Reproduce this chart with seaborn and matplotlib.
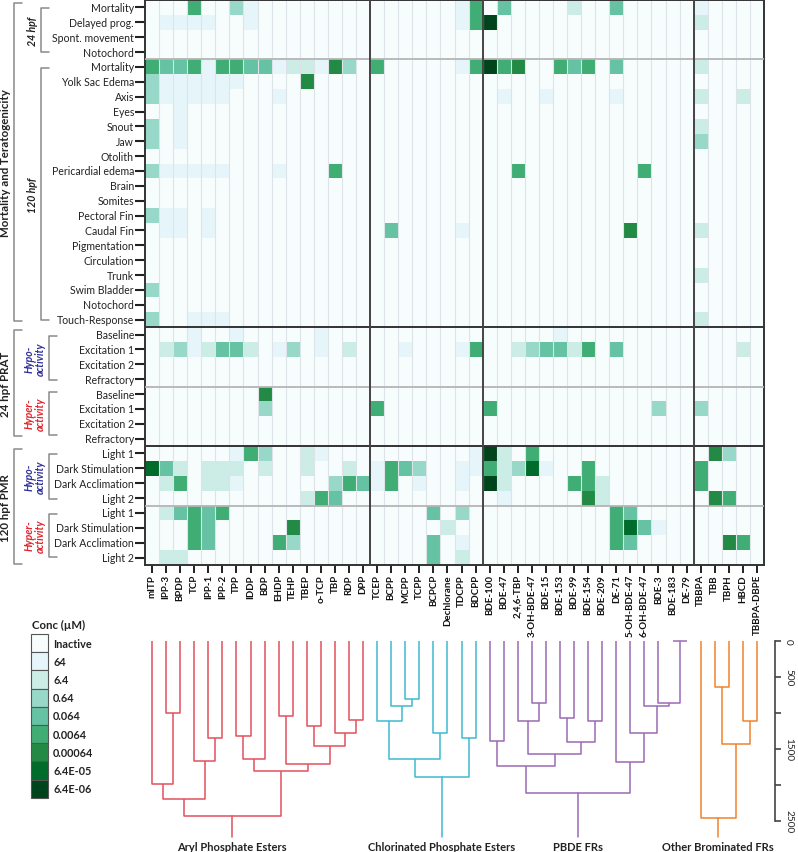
import numpy as np
import pandas as pd
import matplotlib
matplotlib.use("Agg")
import matplotlib.pyplot as plt
from matplotlib.colors import ListedColormap
from matplotlib.patches import Rectangle
import seaborn as sns

sns.set_style("white")
plt.rcParams['font.family'] = ['Lato', 'DejaVu Sans']

# compounds (columns), grouped by class
aryl = ["mITP", "IPP-3", "BPDP", "TCP", "IPP-1", "IPP-2", "TPP", "IDDP", "BDP",
        "EHDP", "TEHP", "TBEP", "o-TCP", "TBP", "RDP", "DPP"]
chlor = ["TCEP", "BCPP", "MCPP", "TCPP", "BCPCP", "Dechlorane", "TDCPP", "BDCPP"]
pbde = ["BDE-100", "BDE-47", "2,4,6-TBP", "3-OH-BDE-47", "BDE-15", "BDE-153",
        "BDE-99", "BDE-154", "BDE-209", "DE-71", "5-OH-BDE-47", "6-OH-BDE-47",
        "BDE-3", "BDE-183", "DE-79"]
other = ["TBBPA", "TBB", "TBPH", "HBCD", "TBBPA-DBPE"]
compounds = aryl + chlor + pbde + other

# endpoints (rows)
tera_24_rows = ["Mortality", "Delayed prog.", "Spont. movement", "Notochord"]
tera_120_rows = ["Mortality", "Yolk Sac Edema", "Axis", "Eyes", "Snout", "Jaw",
                 "Otolith", "Pericardial edema", "Brain", "Somites", "Pectoral Fin",
                 "Caudal Fin", "Pigmentation", "Circulation", "Trunk",
                 "Swim Bladder", "Notochord", "Touch-Response"]
prat_rows = ["Baseline", "Excitation 1", "Excitation 2", "Refractory"]
pmr_rows = ["Light 1", "Dark Stimulation", "Dark Acclimation", "Light 2"]

# concentration level per cell (0 = inactive ... 8 = 6.4E-06 uM)
# groups: aryl | chlorinated | PBDE | other brominated
tera_24 = [
    "0005003100000000 00000015 040000200400000 10000",
    "0111100100000000 00000015 800000000000000 20000",
    "0000000000000000 00000000 000000000000000 00000",
    "0000000000000000 00000000 000000000000000 00000",
]
tera_120 = [
    "5445155441221630 50000015 856005450400000 20000",
    "3111111000060000 00000000 000000000000000 00000",
    "3111110001000000 00000000 010010000100000 20020",
    "0010000000000000 00000000 000000000000000 00000",
    "3010000000000000 00000000 000000000000000 20000",
    "3010000000000000 00000000 000000000000000 30000",
    "0000000000000000 00000000 000000000000000 00000",
    "3111110001000500 00000000 005000000005000 00000",
    "0000000000000000 00000000 000000000000000 00000",
    "0000000000000000 00000000 000000000000000 00000",
    "3110100000000000 00000000 000000000000000 00000",
    "0110100000000000 04000010 000000000060000 20000",
    "0000000000000000 00000000 000000000000000 00000",
    "0000000000000000 00000000 000000000000000 00000",
    "0000000000000000 00000000 000000000000000 20000",
    "3000000000000000 00000000 000000000000000 00000",
    "0000000000000000 00000000 000000000000000 00000",
    "3001110000000000 00000000 000000000000000 20000",
]
prat_hypo = [
    "0001001000001000 00000000 000001000000000 00000",
    "0231244201301020 00100015 002344250400000 00020",
    "0000000000000000 00000000 000000000000000 00000",
    "0000000000000000 00000000 000000000000000 00000",
]
prat_hyper = [
    "0000000060000000 00000000 000000000000000 00000",
    "0000000030000000 50000000 500000000000300 30000",
    "0000000000000000 00000000 000000000000000 00000",
    "0000000000000000 00000000 000000000000000 00000",
]
pmr_hypo = [
    "0000001530021000 00000001 820500000000000 06300",
    "7420222020020020 15430011 523710050000000 50000",
    "0250221000000354 15010010 820000552000000 50000",
    "0000000000025400 00000000 010000062000000 06500",
]
pmr_hyper = [
    "0245450000000000 00004030 000000000540000 00000",
    "0005400000600000 00000200 000000000574100 00000",
    "0005400005300000 00004010 000000000540000 00650",
    "0220000000000000 00004020 000000000000000 00000",
]

conc_labels = ["Inactive", "64", "6.4", "0.64", "0.064", "0.0064", "0.00064",
               "6.4E-05", "6.4E-06"]

# dendrogram: (left, right, height)
aryl_tree = (((("mITP", ("IPP-3", "BPDP", 1000), 1990),
               ("TCP", ("IPP-1", "IPP-2", 1355), 1665), 2200),
              ((("TPP", "IDDP", 1330), "BDP", 1645),
               (("EHDP", "TEHP", 1040),
                (("TBEP", "o-TCP", 1190), ("TBP", ("RDP", "DPP", 1100), 1280), 1465),
                1715), 1805), 2430))
chlor_tree = ((("TCEP", ("BCPP", ("MCPP", "TCPP", 810), 905), 1110),
               ("BCPCP", "Dechlorane", 1285), 1645),
              ("TDCPP", "BDCPP", 1355), 1890)
pbde_tree = ((("BDE-100", "BDE-47", 1390),
              (("2,4,6-TBP", ("3-OH-BDE-47", "BDE-15", 870), 1120),
               (("BDE-153", "BDE-99", 1075), ("BDE-154", "BDE-209", 1110), 1405),
               1570), 1745),
             ("DE-71", ("5-OH-BDE-47", ("6-OH-BDE-47",
                                        ("BDE-3", ("BDE-183", "DE-79", 0), 870),
                                        910), 1285), 1680), 2115)
other_tree = ("TBBPA", (("TBB", "TBPH", 640), ("HBCD", "TBBPA-DBPE", 1110), 1435), 2465)

trees = [(aryl_tree, "#e2505c", "Aryl Phosphate Esters"),
         (chlor_tree, "#3dbad0", "Chlorinated Phosphate Esters"),
         (pbde_tree, "#9a6ab4", "PBDE FRs"),
         (other_tree, "#f0822e", "Other Brominated FRs")]

# ---- build matrix ----
blocks = [tera_24, tera_120, prat_hypo, prat_hyper, pmr_hypo, pmr_hyper]
rows = []
for b in blocks:
    for s in b:
        rows.append([int(c) for c in s.replace(" ", "")])
row_names = tera_24_rows + tera_120_rows + prat_rows + prat_rows + pmr_rows + pmr_rows
df = pd.DataFrame(rows, columns=compounds)

W, H = 798, 853
fig = plt.figure(figsize=(W / 100, H / 100), dpi=100)

def px_axes(x0, y0, x1, y1):
    return fig.add_axes([x0 / W, 1 - y1 / H, (x1 - x0) / W, (y1 - y0) / H])

colors = plt.get_cmap("BuGn")(np.linspace(0, 1, 9))
cmap = ListedColormap(colors)

# ---- heatmap ----
ax = px_axes(145, 1, 764, 566)
sns.heatmap(df, cmap=cmap, vmin=-0.5, vmax=8.5, cbar=False, ax=ax,
            xticklabels=compounds, yticklabels=row_names)
n_rows, n_cols = df.shape
ax.vlines(np.arange(1, n_cols), 0, n_rows, color="#dde4e8", lw=0.8, zorder=2)
for r in [4, 26, 34]:
    ax.axhline(r, color="#b5b5b5", lw=1.3, zorder=3)
for r in [22, 30]:
    ax.axhline(r, color="#333333", lw=1.4, zorder=4)
for c in [16, 24, 39]:
    ax.axvline(c, color="#444444", lw=1.4, zorder=4)
for sp in ax.spines.values():
    sp.set_visible(True)
    sp.set_color("#333333")
    sp.set_linewidth(1.4)
ax.set_xlabel("")
ax.set_ylabel("")
ax.tick_params(axis="y", left=True, length=7, width=1.5, color="#222222",
               pad=1, labelsize=7.6)
ax.tick_params(axis="x", bottom=True, length=5.5, width=1.4, color="#222222",
               pad=1, labelsize=7)
ax.set_yticklabels(row_names, rotation=0, color="#222222")
ax.set_xticklabels(compounds, rotation=90, fontweight="bold", color="#111111")

# ---- dendrogram ----
dax = px_axes(145, 635, 775, 853)
dax.set_xlim(0, n_cols * 630 / 619)
y_top = (635 - 641.7) * 500 / 36
y_bot = (853 - 641.7) * 500 / 36
dax.set_ylim(y_bot, y_top)
stem_end = 2730

def draw_tree(node, color):
    if isinstance(node, str):
        return compounds.index(node) + 0.5, 0.0
    left, right, h = node
    xl, hl = draw_tree(left, color)
    xr, hr = draw_tree(right, color)
    dax.plot([xl, xl, xr, xr], [hl, h, h, hr], color=color, lw=1.1,
             solid_capstyle="butt")
    return (xl + xr) / 2, h

for tree, color, name in trees:
    x, h = draw_tree(tree, color)
    dax.plot([x, x], [h, stem_end], color=color, lw=1.1)
    dax.text(x, 2852, name, ha="center", va="center", fontsize=8,
             fontweight="bold", color="#222222")

for k in ["top", "left", "bottom"]:
    dax.spines[k].set_visible(False)
dax.spines["right"].set_bounds(0, 2500)
dax.spines["right"].set_color("#444444")
dax.spines["right"].set_linewidth(1.2)
dax.yaxis.tick_right()
dax.set_xticks([])
dax.set_yticks([0, 500, 1000, 1500, 2000, 2500])
dax.set_yticklabels(["0", "500", "", "1500", "", "2500"], rotation=-90,
                    va="center", fontsize=7.2)
dax.tick_params(axis="y", length=4.5, width=1.2, color="#444444", pad=2)
dax.patch.set_visible(False)

# ---- annotations, brackets and legend ----
oax = px_axes(0, 0, W, H)
oax.set_xlim(0, W)
oax.set_ylim(H, 0)
oax.axis("off")

def bracket(x, y0, y1, tick):
    oax.plot([x + tick, x, x, x + tick], [y0, y0, y1, y1], color="#8a8a8a", lw=1.1)

bracket(14, 4, 322, 8)
bracket(41, 9, 53, 8)
bracket(41, 69, 321, 8)
bracket(14, 331, 437, 8)
bracket(49, 337, 381, 8)
bracket(49, 393, 436, 8)
bracket(14, 450, 565, 8)
bracket(49, 455, 500, 8)
bracket(49, 515, 558, 8)

big = dict(rotation=90, ha="center", va="center", fontsize=8.3,
           fontweight="bold", color="#222222")
oax.text(6, 163, "Mortality and Teratogenicity", **big)
oax.text(6, 384, "24 hpf PRAT", **big)
oax.text(6, 508, "120 hpf PMR", **big)
hpf = dict(rotation=90, ha="center", va="center", fontsize=7.6,
           fontweight="bold", fontstyle="italic", color="#222222")
oax.text(33, 31, "24 hpf", **hpf)
oax.text(33, 195, "120 hpf", **hpf)
for yc, txt, col in [(359, "Hypo-\nactivity", "#2e2e9c"),
                     (414, "Hyper-\nactivity", "#e0242c"),
                     (477, "Hypo-\nactivity", "#2e2e9c"),
                     (536, "Hyper-\nactivity", "#e0242c")]:
    oax.text(35, yc, txt, rotation=90, ha="center", va="center", fontsize=7.6,
             fontweight="bold", fontstyle="italic", color=col,
             multialignment="center", linespacing=1.0)

oax.text(32, 625.5, "Conc (µM)", ha="left", va="center", fontsize=8.2,
         fontweight="bold", color="#222222")
box_h = 18.2
for k, lab in enumerate(conc_labels):
    y0 = 635 + k * box_h
    oax.add_patch(Rectangle((31, y0), 17, box_h, facecolor=colors[k],
                            edgecolor="#555555", lw=0.8))
    oax.text(53, y0 + box_h / 2, lab, ha="left", va="center", fontsize=7.8,
             fontweight="bold", color="#222222")

fig.savefig("out.png", dpi=100)
